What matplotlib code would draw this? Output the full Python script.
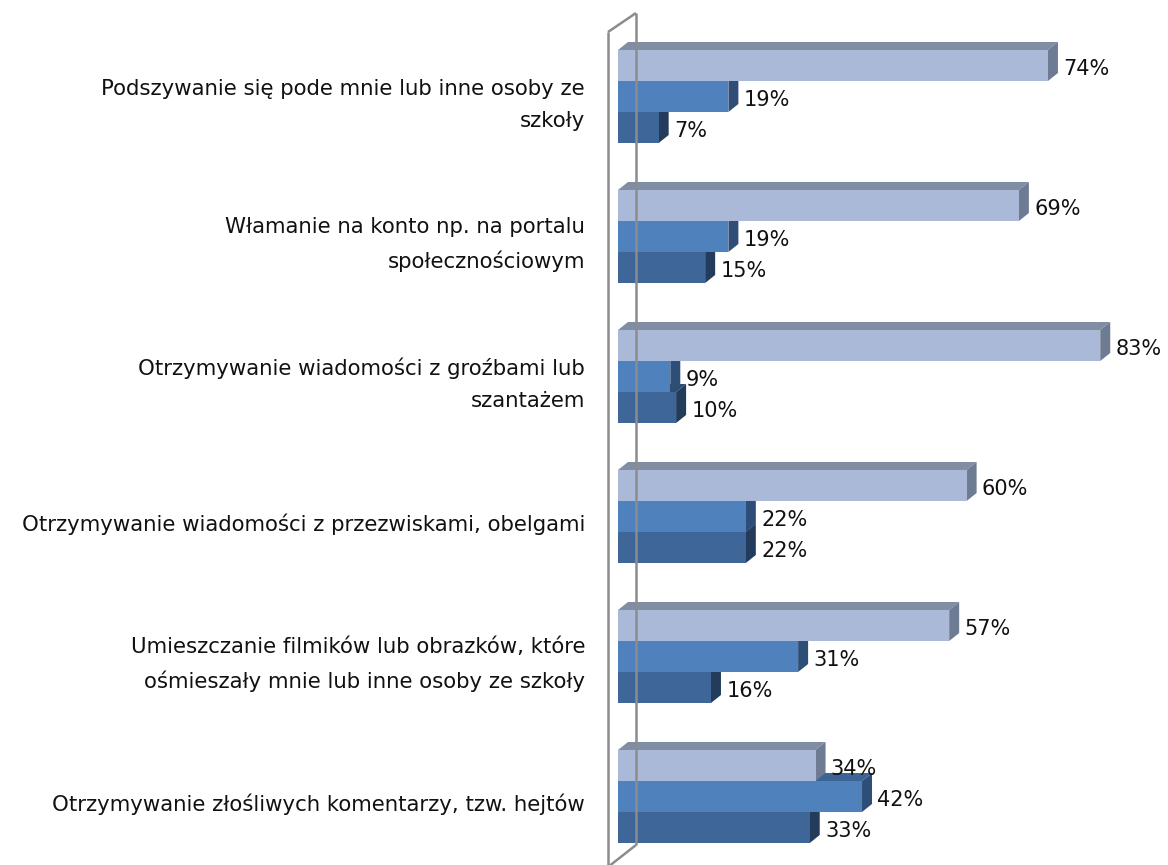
import matplotlib
matplotlib.use('Agg')
import matplotlib.pyplot as plt
from matplotlib.patches import Polygon

categories = [
    'Podszywanie się pode mnie lub inne osoby ze\nszkoły',
    'Włamanie na konto np. na portalu\nspołecznościowym',
    'Otrzymywanie wiadomości z groźbami lub\nszantażem',
    'Otrzymywanie wiadomości z przezwiskami, obelgami',
    'Umieszczanie filmików lub obrazków, które\nośmieszały mnie lub inne osoby ze szkoły',
    'Otrzymywanie złośliwych komentarzy, tzw. hejtów',
]
series_a = [74, 69, 83, 60, 57, 34]
series_b = [19, 19, 9, 22, 31, 42]
series_c = [7, 15, 10, 22, 16, 33]

# front, top, side colours for each series
colors = [
    ('#AAB9D7', '#808DA3', '#6D7B93'),
    ('#4F81BD', '#3C6496', '#2F4E77'),
    ('#3F6698', '#2F4D74', '#243C5C'),
]

# pixel scale: 1% = 5.81px, one category = 140px
px_x = 5.81
px_y = 140.0
x0_px = 618
y0_px = 50

fig = plt.figure(figsize=(11.68, 8.65), dpi=100)
ax = fig.add_axes([0, 0, 1, 1])
ax.set_xlim(-x0_px / px_x, (1168 - x0_px) / px_x)
ax.set_ylim((865 - y0_px) / px_y, -y0_px / px_y)
ax.axis('off')

h = 31 / px_y
dx = 10 / px_x
dy = 8 / px_y

# axis wall
wall_front = -10 / px_x
wall_back = 18 / px_x
wall = dict(color='#8C8C8C', lw=1.8, solid_capstyle='butt')
ax.plot([wall_back, wall_back], [-37 / px_y, 795 / px_y], **wall)
ax.plot([wall_back, wall_front], [-37 / px_y, -18 / px_y], **wall)
ax.plot([wall_front, wall_front], [-18 / px_y, 820 / px_y], **wall)
ax.plot([wall_back, wall_back, wall_front], [795 / px_y, 795 / px_y, 817 / px_y], **wall)

all_series = [series_a, series_b, series_c]
for i, cat in enumerate(categories):
    # draw lowest bar first so upper bars cover hidden faces
    for j in (2, 1, 0):
        v = all_series[j][i]
        front, top, side = colors[j]
        y = i + j * h
        top_face = [(0, y), (v, y), (v + dx, y - dy), (dx, y - dy)]
        side_face = [(v, y), (v, y + h), (v + dx, y + h - dy), (v + dx, y - dy)]
        ax.add_patch(Polygon(top_face, closed=True, fc=top, ec='none'))
        ax.add_patch(Polygon(side_face, closed=True, fc=side, ec='none'))
        ax.barh(y, v, height=h, left=0, align='edge', color=front, edgecolor='none')
        ax.text(v + dx + 0.9, y + h / 2 + 0.025, f'{v}%', ha='left', va='center',
                fontsize=15, color='#111111')
    ax.text(-33 / px_x, i + 0.39, cat, ha='right', va='center', fontsize=15.3,
            color='#111111', linespacing=1.75)

fig.savefig('out.png', dpi=100)
